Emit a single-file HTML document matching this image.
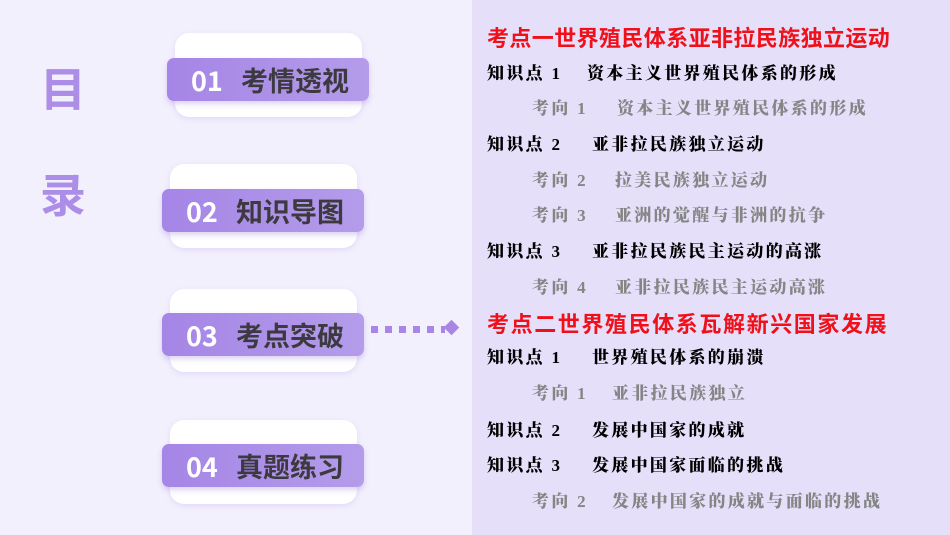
<!DOCTYPE html>
<html><head><meta charset="utf-8"><style>
*{margin:0;padding:0;box-sizing:border-box}
body{width:950px;height:535px;overflow:hidden;background:#f3f0fd;position:relative;font-family:"Liberation Sans","Noto Sans CJK SC",sans-serif}
.card{position:absolute;background:#fff;border-radius:14px;box-shadow:0 2px 6px rgba(170,150,230,.25)}
.band{position:absolute;height:43px;background:linear-gradient(90deg,#a585e6,#b49cea);border-radius:7px;box-shadow:0 3px 6px rgba(140,110,210,.3)}
.band .n{position:absolute;left:24px;top:4px;font-size:27px;font-weight:bold;color:#fff;line-height:36px;font-family:"Noto Sans CJK SC",sans-serif}
.band .t{position:absolute;left:74px;top:4px;font-size:27px;font-weight:bold;color:#3c3a40;font-family:"Noto Sans CJK SC",sans-serif;line-height:36px}
.big{position:absolute;left:40px;font-size:46px;font-weight:bold;color:#ac8ee8;font-family:"Noto Sans CJK SC",sans-serif;line-height:50px}
.panel{position:absolute;left:472px;top:0;width:478px;height:535px;background:#e5dff9}
.l{position:absolute;white-space:nowrap;font-family:"Liberation Serif","Noto Serif CJK SC",serif;font-weight:900;font-size:17px;letter-spacing:2.3px;line-height:20px}
.k{color:#000}.g{color:#858585}
.r{position:absolute;left:487px;white-space:nowrap;color:#f0101a;font-weight:bold;font-size:22px;line-height:26px;font-family:"Noto Sans CJK SC",sans-serif}
.sq{position:absolute;width:7px;height:7px;background:#a985e6;top:326px}
</style></head><body>
<div class="big" style="top:62px">目</div>
<div class="big" style="top:168px">录</div>

<div class="card" style="left:175px;top:33px;width:187px;height:84px"></div>
<div class="band" style="left:167px;top:58px;width:202px"><span class="n">01</span><span class="t">考情透视</span></div>

<div class="card" style="left:170px;top:164px;width:187px;height:84px"></div>
<div class="band" style="left:162px;top:189px;width:202px"><span class="n">02</span><span class="t">知识导图</span></div>

<div class="card" style="left:170px;top:289px;width:187px;height:83px"></div>
<div class="band" style="left:162px;top:313px;width:202px"><span class="n">03</span><span class="t">考点突破</span></div>

<div class="card" style="left:170px;top:420px;width:187px;height:84px"></div>
<div class="band" style="left:162px;top:444px;width:202px"><span class="n">04</span><span class="t">真题练习</span></div>

<div class="sq" style="left:371px"></div><div class="sq" style="left:385px"></div><div class="sq" style="left:399px"></div><div class="sq" style="left:413px"></div><div class="sq" style="left:427px"></div><div class="sq" style="left:441px;width:4px"></div>
<div style="position:absolute;left:446px;top:322px;width:11px;height:11px;background:#a985e6;transform:rotate(45deg)"></div>

<div class="panel"></div>
<div class="r" style="top:24px;letter-spacing:0.4px">考点一世界殖民体系亚非拉民族独立运动</div>
<div class="l k" style="left:487px;top:64px">知识点 1</div><div class="l k" style="left:587px;top:64px">资本主义世界殖民体系的形成</div>
<div class="l g" style="left:532px;top:99px">考向 1</div><div class="l g" style="left:617px;top:99px">资本主义世界殖民体系的形成</div>
<div class="l k" style="left:487px;top:135px">知识点 2</div><div class="l k" style="left:592px;top:135px">亚非拉民族独立运动</div>
<div class="l g" style="left:532px;top:171px">考向 2</div><div class="l g" style="left:615px;top:171px">拉美民族独立运动</div>
<div class="l g" style="left:532px;top:206px">考向 3</div><div class="l g" style="left:615px;top:206px">亚洲的觉醒与非洲的抗争</div>
<div class="l k" style="left:487px;top:242px">知识点 3</div><div class="l k" style="left:592px;top:242px">亚非拉民族民主运动的高涨</div>
<div class="l g" style="left:532px;top:278px">考向 4</div><div class="l g" style="left:615px;top:278px">亚非拉民族民主运动高涨</div>
<div class="r" style="top:310px;letter-spacing:1.6px">考点二世界殖民体系瓦解新兴国家发展</div>
<div class="l k" style="left:487px;top:348px">知识点 1</div><div class="l k" style="left:592px;top:348px">世界殖民体系的崩溃</div>
<div class="l g" style="left:532px;top:384px">考向 1</div><div class="l g" style="left:612px;top:384px">亚非拉民族独立</div>
<div class="l k" style="left:487px;top:421px">知识点 2</div><div class="l k" style="left:592px;top:421px">发展中国家的成就</div>
<div class="l k" style="left:487px;top:456px">知识点 3</div><div class="l k" style="left:592px;top:456px">发展中国家面临的挑战</div>
<div class="l g" style="left:532px;top:492px">考向 2</div><div class="l g" style="left:612px;top:492px">发展中国家的成就与面临的挑战</div>
</body></html>
